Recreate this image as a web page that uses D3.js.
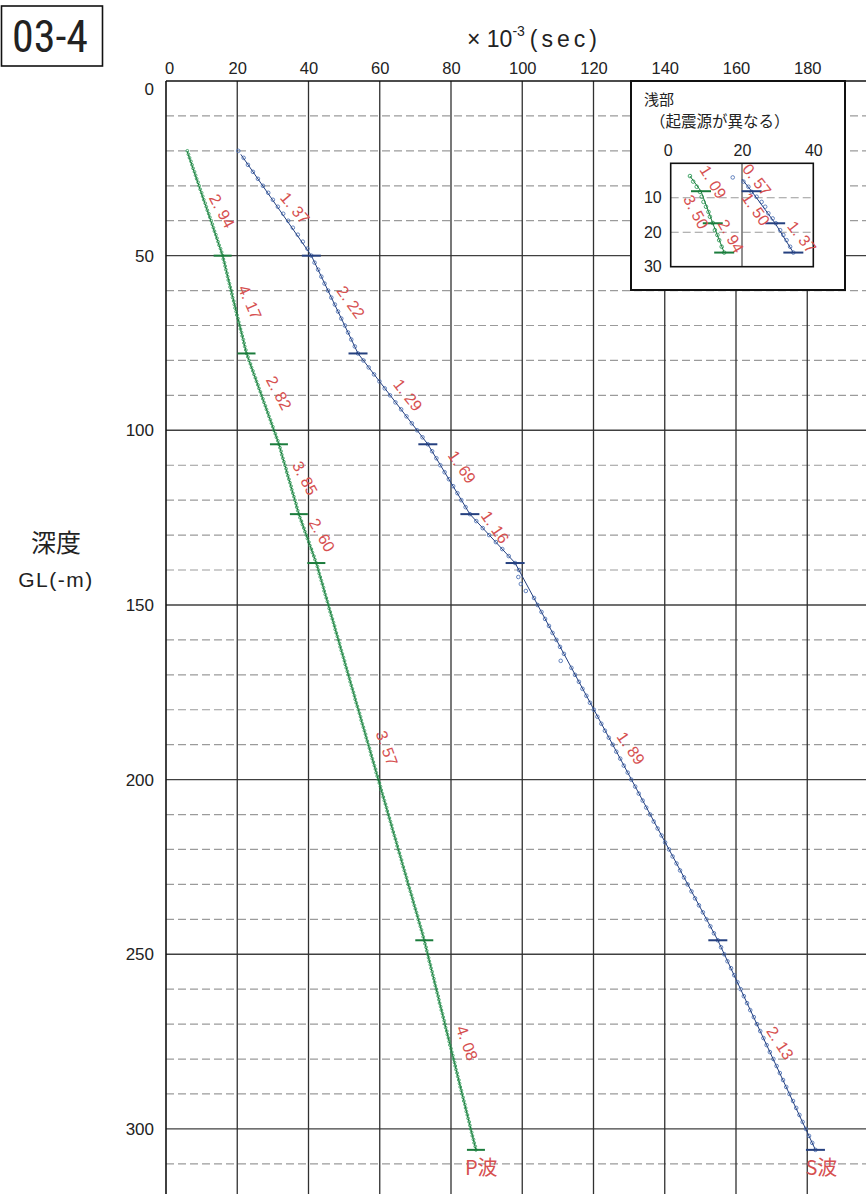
<!DOCTYPE html>
<html><head><meta charset="utf-8">
<script src="https://cdn.jsdelivr.net/npm/d3@7"></script>
<style>body{margin:0;background:#fff}</style>
</head><body>
<svg id="c" width="866" height="1194" xmlns="http://www.w3.org/2000/svg"></svg>
<script>
// ---------- data ----------
const xTicks = [0,20,40,60,80,100,120,140,160,180];
const yTicks = [0,50,100,150,200,250,300];
const yMinor = [10,20,30,40,60,70,80,90,110,120,130,140,160,170,180,190,210,220,230,240,260,270,280,290,310];

const pDepth = [20,21,22,23,24,25,26,27,28,29,30,31,32,33,34,35,36,37,38,39,40,41,42,43,44,45,46,47,48,49,50,
51,52,53,54,55,56,57,58,59,60,61,62,63,64,65,66,67,68,69,70,71,72,73,74,75,76,77,78,
79,80,81,82,83,84,85,86,87,88,89,90,91,92,93,94,95,96,97,98,99,100,101,102,103,104,
105,106,107,108,109,110,111,112,113,114,115,116,117,118,119,120,121,122,123,124,
125,126,127,128,129,130,131,132,133,134,135,136,137,138,
139,140,141,142,143,144,145,146,147,148,149,150,151,152,153,154,155,156,157,158,159,160,161,162,163,164,165,166,167,168,169,170,171,172,173,174,175,176,177,178,179,180,181,182,183,184,185,186,187,188,189,190,191,192,193,194,195,196,197,198,199,200,201,202,203,204,205,206,207,208,209,210,211,212,213,214,215,216,217,218,219,220,221,222,223,224,225,226,227,228,229,230,231,232,233,234,235,236,237,238,239,240,241,242,243,244,245,246,
247,248,249,250,251,252,253,254,255,256,257,258,259,260,261,262,263,264,265,266,267,268,269,270,271,272,273,274,275,276,277,278,279,280,281,282,283,284,285,286,287,288,289,290,291,292,293,294,295,296,297,298,299,300,301,302,303,304,305,306];
const pTime = [6.0,6.3,6.6,7.0,7.3,7.6,8.0,8.3,8.6,9.0,9.3,9.6,10.0,10.3,10.6,11.0,11.3,11.6,12.0,12.3,12.7,13.0,13.3,13.6,14.0,14.3,14.6,14.9,15.3,15.6,15.9,
16.1,16.4,16.6,16.8,17.1,17.3,17.5,17.8,18.0,18.3,18.5,18.7,19.0,19.2,19.4,19.7,19.9,20.2,20.4,20.7,20.9,21.2,21.4,21.7,21.9,22.1,22.4,22.6,
23.0,23.3,23.7,24.0,24.4,24.7,25.1,25.4,25.8,26.1,26.5,26.8,27.2,27.5,27.9,28.2,28.6,28.9,29.3,29.6,30.0,30.3,30.7,31.0,31.4,31.7,
32.0,32.3,32.5,32.8,33.1,33.4,33.7,33.9,34.2,34.5,34.8,35.1,35.3,35.6,35.9,36.2,36.5,36.7,37.0,37.3,
37.6,38.0,38.3,38.7,39.0,39.4,39.7,40.1,40.4,40.8,41.1,41.5,41.8,42.2,
42.5,42.8,43.0,43.3,43.6,43.9,44.2,44.4,44.7,45.0,45.3,45.6,45.8,46.1,46.4,46.7,47.0,47.3,47.5,47.8,48.1,48.4,48.7,48.9,49.2,49.5,49.8,50.1,50.3,50.6,50.9,51.2,51.5,51.7,52.0,52.3,52.6,52.9,53.1,53.4,53.7,54.0,54.3,54.6,54.8,55.1,55.4,55.7,56.0,56.2,56.5,56.8,57.1,57.4,57.6,57.9,58.2,58.5,58.8,59.0,59.3,59.6,59.9,60.2,60.4,60.7,61.0,61.3,61.6,61.9,62.1,62.4,62.7,63.0,63.3,63.5,63.8,64.1,64.4,64.7,64.9,65.2,65.5,65.8,66.1,66.3,66.6,66.9,67.2,67.5,67.7,68.0,68.3,68.6,68.9,69.2,69.4,69.7,70.0,70.3,70.6,70.8,71.1,71.4,71.7,72.0,72.2,72.5,
72.7,73.0,73.2,73.5,73.7,73.9,74.2,74.4,74.7,74.9,75.2,75.4,75.6,75.9,76.1,76.4,76.6,76.8,77.1,77.3,77.6,77.8,78.1,78.3,78.5,78.8,79.0,79.3,79.5,79.7,80.0,80.2,80.5,80.7,81.0,81.2,81.4,81.7,81.9,82.2,82.4,82.6,82.9,83.1,83.4,83.6,83.9,84.1,84.3,84.6,84.8,85.1,85.3,85.5,85.8,86.0,86.3,86.5,86.8,87.0];

const sDepth = [20,22,24,26,28,30,32,34,36,38,40,42,44,46,48,50,52,54,56,58,60,62,64,66,68,70,72,74,76,78,80,82,84,86,88,90,92,94,96,98,100,102,104,106,108,110,112,114,116,118,120,122,124,126,128,130,132,134,136,138,140,142,144,146,148,150,152,154,156,158,160,162,164,166,168,170,172,174,176,178,180,182,184,186,188,190,192,194,196,198,200,202,204,206,208,210,212,214,216,218,220,222,224,226,228,230,232,234,236,238,240,242,244,246,248,250,252,254,256,258,260,262,264,266,268,270,272,274,276,278,280,282,284,286,288,290,292,294,296,298,300,302,304,306];
const sTime = [20.3,21.8,23.0,24.4,25.8,27.2,28.7,30.0,31.4,32.9,34.3,35.6,37.0,38.4,39.7,40.8,
41.7,42.7,43.6,44.5,45.5,46.4,47.4,48.3,49.2,50.2,51.1,52.0,53.0,53.9,
55.4,56.9,58.4,59.9,61.4,62.9,64.4,66.0,67.5,69.0,70.5,72.0,73.5,
74.7,75.9,77.0,78.2,79.4,80.6,81.8,82.9,84.1,85.3,
87.1,88.9,90.7,92.6,94.4,96.2,98.0,
99.1,98.9,99.6,101.0,103.3,104.3,105.4,106.4,107.5,108.5,109.6,110.6,111.7,110.8,113.8,114.8,115.9,116.9,118.0,119.0,120.1,121.1,122.2,123.2,124.3,125.4,126.4,127.5,128.5,129.6,130.6,131.7,132.7,133.8,134.8,135.9,136.9,138.0,139.1,140.1,141.2,142.2,143.3,144.3,145.4,146.4,147.5,148.5,149.6,150.7,151.7,152.8,153.8,154.9,
155.8,156.7,157.6,158.6,159.5,160.4,161.3,162.2,163.1,164.0,165.0,165.9,166.8,167.7,168.6,169.5,170.5,171.4,172.3,173.2,174.1,175.0,176.0,176.9,177.8,178.7,179.6,180.5,181.4,182.3];

// fitted segment break points
const pBreakDepth = [20,50,78,104,124,138,246,306];
const pBreakTime  = [5.9,15.9,22.6,31.7,37.3,42.2,72.5,87.0];
const sBreakDepth = [21,50,78,104,124,138,246,306];
const sBreakTime  = [21.0,40.8,53.9,73.5,85.3,98.0,154.9,182.3];

// velocity labels (km/s)
const pVel = ["2.94","4.17","2.82","3.85","2.60","3.57","4.08"];
const pVelTime  = [15.7,23.6,31.7,39.0,43.8,62.0,84.5];
const pVelDepth = [37.2,63.3,89.3,113.7,130.0,191.0,275.4];
const pVelAngle = [62,66,62,62,60,70,70];
const sVel = ["1.37","2.22","1.29","1.69","1.16","1.89","2.13"];
const sVelTime  = [36.2,51.9,67.9,83.1,92.4,130.5,172.4];
const sVelDepth = [36.4,63.3,89.9,110.5,127.7,191.0,275.4];
const sVelAngle = [50,55,52,55,55,55,57];

// inset (shallow part)
const insetXTicks = [0,20,40];
const insetYTicks = [10,20,30];
const ipDepth = [3.7,5.3,6.8,8.3,9.7,11.2,12.6,14.1,15.5,17.3,19.4,20.8,22.3,24.2,25.9];
const ipTime  = [5.4,6.3,7.3,8.2,8.7,9.2,9.9,10.6,11.0,11.8,12.4,13.1,13.6,14.3,15.0];
const isDepth = [4.1,5.3,6.8,8.3,9.7,11.2,12.6,14.5,16.0,17.4,19.4,20.8,22.3,24.2,25.9];
const isTime  = [17.4,20.4,21.8,22.7,24.1,25.5,26.5,27.4,28.6,29.5,30.7,31.6,32.5,33.5,34.4];
const ipBreakDepth = [3.7,8.1,17.4,25.9];
const ipBreakTime  = [5.4,8.5,11.8,15.0];
const isBreakDepth = [4.6,8.1,17.4,25.9];
const isBreakTime  = [20.0,22.7,29.3,34.4];
const iVel = ["1.09","3.50","2.94","0.57","1.50","1.37"];
const iVelTime  = [11.9,7.1,16.9,24.2,23.9,36.8];
const iVelDepth = [5.4,14.1,21.1,4.8,13.3,21.4];
const iVelAngle = [58,62,60,52,55,52];

// ---------- drawing ----------
const NARROW = "'Liberation Sans Narrow','Arial Narrow','Roboto Condensed','Liberation Sans',sans-serif";
const SANS = "'Liberation Sans',Arial,sans-serif";
const JP = "'Noto Sans CJK JP','Noto Sans CJK SC',sans-serif";
const GREEN = "#2a9a55", GREEN_D = "#1b7c3c", BLUE = "#4a6fb3", BLUE_D = "#25407f", RED = "#d65050";

const svg = d3.select("#c");
svg.append("rect").attr("width",866).attr("height",1194).attr("fill","#fff");

const x = d3.scaleLinear().domain([0,200]).range([166,878.5]);
const y = d3.scaleLinear().domain([0,320]).range([81,81+320*3.493]);

const g = svg.append("g");
g.selectAll(".minor").data(yMinor).join("line")
  .attr("x1",x(0)).attr("x2",x(200)).attr("y1",d=>y(d)).attr("y2",d=>y(d))
  .attr("stroke","#9b9b9b").attr("stroke-width",1.2).attr("stroke-dasharray","8,4");
g.selectAll(".major").data(yTicks.slice(1)).join("line")
  .attr("x1",x(0)).attr("x2",x(200)).attr("y1",d=>y(d)).attr("y2",d=>y(d))
  .attr("stroke","#404040").attr("stroke-width",1.4);
g.selectAll(".vert").data(xTicks.slice(1)).join("line")
  .attr("x1",d=>x(d)).attr("x2",d=>x(d)).attr("y1",y(0)).attr("y2",y(320))
  .attr("stroke","#303030").attr("stroke-width",1.3);
g.append("line").attr("x1",x(0)).attr("x2",x(200)).attr("y1",y(0)).attr("y2",y(0)).attr("stroke","#111").attr("stroke-width",1.6);
g.append("line").attr("x1",x(0)).attr("x2",x(0)).attr("y1",y(0)).attr("y2",y(320)).attr("stroke","#111").attr("stroke-width",1.6);

const xAxis = svg.append("g").attr("transform",`translate(0,${y(0)})`)
  .call(d3.axisTop(x).tickValues(xTicks).tickSize(0).tickPadding(7));
xAxis.select(".domain").remove();
xAxis.selectAll("text").attr("font-family",SANS).attr("font-size",16.5).attr("fill","#222")
  .attr("dx",d=>d===0?3:0);
const yAxis = svg.append("g").attr("transform",`translate(${x(0)},0)`)
  .call(d3.axisLeft(y).tickValues(yTicks).tickSize(0).tickPadding(12));
yAxis.select(".domain").remove();
yAxis.selectAll("text").attr("font-family",SANS).attr("font-size",17).attr("fill","#222")
  .attr("dy",d=>d===0?"0.8em":"0.32em");

function drawSeries(parent, xs, ys, depths, times, bd, bt, col, colLine, colBar, r, barW, lw){
  parent.append("g").selectAll("circle").data(depths).join("circle")
    .attr("cx",(d,i)=>xs(times[i])).attr("cy",d=>ys(d)).attr("r",r)
    .attr("fill","none").attr("stroke",col).attr("stroke-width",0.85);
  const line = d3.line().x((d,i)=>xs(bt[i])).y(d=>ys(d));
  parent.append("path").datum(bd).attr("d",line).attr("fill","none")
    .attr("stroke",colLine).attr("stroke-width",lw);
  parent.append("g").selectAll("line").data(bd.slice(1)).join("line")
    .attr("x1",(d,i)=>xs(bt[i+1])-barW/2).attr("x2",(d,i)=>xs(bt[i+1])+barW/2)
    .attr("y1",d=>ys(d)).attr("y2",d=>ys(d))
    .attr("stroke",colBar).attr("stroke-width",2);
}
drawSeries(svg, x, y, pDepth, pTime, pBreakDepth, pBreakTime, GREEN, GREEN_D, GREEN_D, 1.4, 18, 1.0);
drawSeries(svg, x, y, sDepth, sTime, sBreakDepth, sBreakTime, BLUE, BLUE_D, BLUE_D, 1.8, 19, 1.0);

function drawLabels(parent, xs, ys, txt, tt, dd, ang, size){
  parent.append("g").selectAll("text").data(txt).join("text")
    .attr("transform",(d,i)=>`translate(${xs(tt[i])},${ys(dd[i])}) rotate(${ang[i]})`)
    .attr("text-anchor","middle").attr("dy","0.35em")
    .attr("font-family",SANS).attr("font-size",size).attr("fill",RED)
    .text(d=>d.replace(".",". "));
}
drawLabels(svg, x, y, pVel, pVelTime, pVelDepth, pVelAngle, 16);
drawLabels(svg, x, y, sVel, sVelTime, sVelDepth, sVelAngle, 16);

svg.append("text").attr("x",x(pBreakTime[7])-11).attr("y",y(306)+25).attr("font-family",JP).attr("font-size",20)
  .attr("fill",RED).text("P波");
svg.append("text").attr("x",x(sBreakTime[7])-10).attr("y",y(306)+25).attr("font-family",JP).attr("font-size",20)
  .attr("fill",RED).text("S波");

// ---------- inset ----------
const ins = svg.append("g");
ins.append("rect").attr("x",631).attr("y",81).attr("width",214).attr("height",209)
  .attr("fill","#fff").attr("stroke","#111").attr("stroke-width",2);
ins.append("text").attr("x",644).attr("y",105).attr("font-family",JP).attr("font-size",15).attr("fill","#222").text("浅部");
ins.append("text").attr("x",650).attr("y",127).attr("font-family",JP).attr("font-size",15.5).attr("fill","#222").text("（起震源が異なる）");
const xi = d3.scaleLinear().domain([0,40]).range([670.7,813.3]);
const yi = d3.scaleLinear().domain([0,30]).range([163.3,266.7]);
ins.selectAll(".idash").data([10,20]).join("line")
  .attr("x1",xi(0)).attr("x2",xi(40)).attr("y1",d=>yi(d)).attr("y2",d=>yi(d))
  .attr("stroke","#9b9b9b").attr("stroke-width",1.1).attr("stroke-dasharray","8,4");
ins.append("line").attr("x1",xi(20)).attr("x2",xi(20)).attr("y1",yi(0)).attr("y2",yi(30)).attr("stroke","#333").attr("stroke-width",1.1);
ins.append("rect").attr("x",xi(0)).attr("y",yi(0)).attr("width",xi(40)-xi(0)).attr("height",yi(30)-yi(0))
  .attr("fill","none").attr("stroke","#111").attr("stroke-width",1.6);
const ixa = ins.append("g").attr("transform",`translate(0,${yi(0)})`)
  .call(d3.axisTop(xi).tickValues(insetXTicks).tickSize(0).tickPadding(7));
ixa.select(".domain").remove();
ixa.selectAll("text").attr("font-family",SANS).attr("font-size",16).attr("fill","#222").attr("dx",d=>d===0?-3:0);
const iya = ins.append("g").attr("transform",`translate(${xi(0)},0)`)
  .call(d3.axisLeft(yi).tickValues(insetYTicks).tickSize(0).tickPadding(9));
iya.select(".domain").remove();
iya.selectAll("text").attr("font-family",SANS).attr("font-size",16).attr("fill","#222");

drawSeries(ins, xi, yi, ipDepth, ipTime, ipBreakDepth, ipBreakTime, GREEN, GREEN_D, GREEN_D, 1.8, 20, 1.0);
drawSeries(ins, xi, yi, isDepth, isTime, isBreakDepth, isBreakTime, BLUE, BLUE_D, BLUE_D, 1.8, 20, 1.0);
drawLabels(ins, xi, yi, iVel, iVelTime, iVelDepth, iVelAngle, 16);

// ---------- titles ----------
const t = svg.append("text").attr("x",467).attr("y",47).attr("font-family",SANS).attr("font-size",23).attr("fill","#222");
t.append("tspan").text("× 10");
t.append("tspan").attr("dy",-11).attr("font-size",14).text("-3");
t.append("tspan").attr("dy",11).attr("dx",5).attr("letter-spacing",4).text("(sec)");

svg.append("rect").attr("x",1.5).attr("y",6).attr("width",101).attr("height",60)
  .attr("fill","none").attr("stroke","#111").attr("stroke-width",1.6);
svg.append("text").attr("x",50).attr("y",52).attr("text-anchor","middle").attr("font-family",NARROW)
  .attr("font-size",44).attr("fill","#222").text("03-4");

svg.append("text").attr("x",56).attr("y",552).attr("text-anchor","middle").attr("font-family",JP)
  .attr("font-size",25).attr("fill","#222").text("深度");
svg.append("text").attr("x",56).attr("y",587).attr("text-anchor","middle").attr("font-family",SANS)
  .attr("font-size",21).attr("letter-spacing",1.5).attr("fill","#222").text("GL(-m)");
</script>
</body></html>
